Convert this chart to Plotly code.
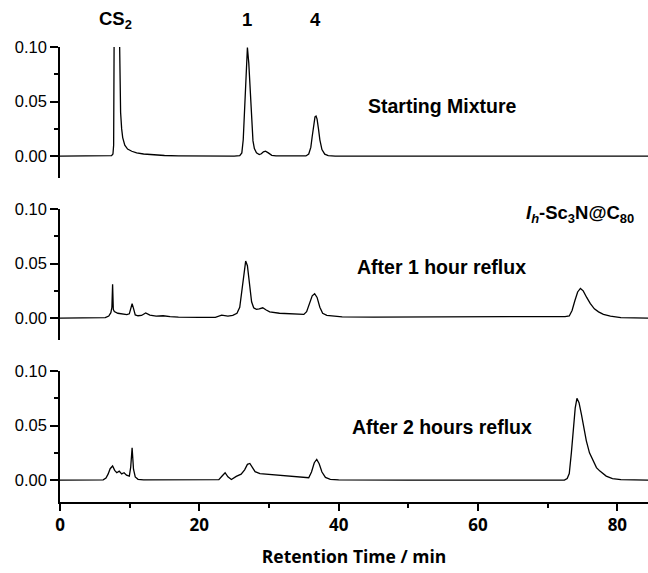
import plotly.graph_objects as go

# ---------------- data ----------------
x_start = [0, 5, 7.4, 7.6, 7.7, 7.8, 7.9, 8.1, 8.3, 8.45, 8.55, 8.7, 8.85, 9.0, 9.3, 9.7,
           10.3, 11, 12, 13.5, 15, 17, 20, 25, 25.8, 26.1, 26.3, 26.5, 26.7, 26.9, 27.1,
           27.3, 27.5, 27.7, 27.9, 28.2, 28.6, 28.9, 29.2, 29.5, 29.9, 30.4, 31, 33, 35.3,
           35.7, 36.0, 36.2, 36.4, 36.6, 36.75, 36.9, 37.1, 37.3, 37.6, 38.0, 38.5, 39.5,
           45, 60, 84.5]
y_start = [0, 0, 0.0005, 0.002, 0.01, 0.15, 0.4, 0.6, 0.4, 0.15, 0.08, 0.04, 0.025, 0.017,
           0.01, 0.0065, 0.0045, 0.003, 0.002, 0.0012, 0.0006, 0.0003, 0, 0, 0.0005, 0.003,
           0.015, 0.045, 0.085, 0.0995, 0.085, 0.058, 0.03, 0.014, 0.007, 0.003, 0.0015,
           0.0022, 0.004, 0.0046, 0.003, 0.0008, 0.0002, 0, 0.0002, 0.002, 0.008, 0.018,
           0.03, 0.036, 0.0367, 0.034, 0.025, 0.015, 0.006, 0.0018, 0.0005, 0.0001, 0, 0, 0]

x_1h = [0, 5, 6.5, 7.0, 7.3, 7.45, 7.55, 7.65, 7.8, 8.3, 9.0, 9.6, 9.95, 10.15, 10.35,
        10.55, 10.8, 11.2, 11.7, 12.3, 12.9, 13.8, 14.8, 15.8, 17, 20, 22.3, 23.2, 24.1,
        24.8, 25.4, 25.8, 26.1, 26.4, 26.65, 26.9, 27.2, 27.5, 27.8, 28.2, 28.6, 29.1,
        29.6, 30.1, 31.5, 33.5, 35.0, 35.4, 35.8, 36.2, 36.55, 36.9, 37.3, 37.7, 38.3,
        39.2, 40.5, 45, 55, 65, 72.5, 73.1, 73.5, 73.9, 74.3, 74.7, 75.1, 75.6, 76.1,
        76.7, 77.3, 78.0, 79.0, 80.5, 84.5]
y_1h = [0, 0, 0.0005, 0.002, 0.005, 0.01, 0.031, 0.008, 0.006, 0.0045, 0.0035, 0.0032,
        0.004, 0.01, 0.0132, 0.009, 0.003, 0.0022, 0.0025, 0.0048, 0.0028, 0.0018, 0.0022,
        0.0015, 0.001, 0.0007, 0.0008, 0.0027, 0.0018, 0.0025, 0.0045, 0.01, 0.025, 0.043,
        0.0523, 0.048, 0.03, 0.015, 0.0095, 0.008, 0.0085, 0.0095, 0.0075, 0.0058, 0.0045,
        0.004, 0.0035, 0.006, 0.0135, 0.0205, 0.0224, 0.019, 0.01, 0.0045, 0.0025, 0.0018,
        0.0012, 0.0010, 0.0010, 0.0012, 0.0015, 0.002, 0.007, 0.016, 0.024, 0.0272, 0.025,
        0.019, 0.0135, 0.0085, 0.0058, 0.0035, 0.0018, 0.0005, 0.0]

x_2h = [0, 5, 6.2, 6.6, 6.9, 7.2, 7.55, 7.85, 8.15, 8.5, 8.85, 9.2, 9.55, 9.95, 10.15,
        10.35, 10.55, 10.8, 11.2, 12, 15, 20, 22.8, 23.3, 23.7, 24.1, 24.6, 25.3, 26.0,
        26.5, 26.9, 27.25, 27.6, 28.0, 28.7, 30, 32, 34, 35.7, 36.1, 36.5, 36.85, 37.2,
        37.6, 38.1, 38.8, 40, 50, 65, 72.4, 72.8, 73.1, 73.4, 73.7, 73.95, 74.2, 74.5,
        74.85, 75.2, 75.55, 76.0, 76.5, 77.0, 77.5, 78.4, 79.3, 80.5, 84.5]
y_2h = [0, 0, 0.0003, 0.002, 0.0055, 0.0105, 0.013, 0.009, 0.0068, 0.0083, 0.0058, 0.0068,
        0.0046, 0.0037, 0.012, 0.0297, 0.01, 0.003, 0.0008, 0.0003, 0.0002, 0.0003, 0.0005,
        0.004, 0.0068, 0.003, 0.0006, 0.0035, 0.0055, 0.0095, 0.0145, 0.0153, 0.0115,
        0.0078, 0.006, 0.0052, 0.0043, 0.0033, 0.0022, 0.0075, 0.016, 0.019, 0.015, 0.0075,
        0.0025, 0.0008, 0.0002, 0, 0, 0, 0.0015, 0.006, 0.025, 0.048, 0.066, 0.075, 0.071,
        0.06, 0.047, 0.036, 0.025, 0.0174, 0.0115, 0.0083, 0.0037, 0.0015, 0.0005, 0]

y_ticks = [0.0, 0.05, 0.10]
y_tick_text = ["0.00", "0.05", "0.10"]
x_ticks = [0, 20, 40, 60, 80]
x_tick_text = ["0", "20", "40", "60", "80"]
peak_labels = ["<b>CS<sub>2</sub></b>", "<b>1</b>", "<b>4</b>"]
peak_label_x = [7.9, 26.8, 36.7]

# ---------------- figure ----------------
line = dict(color="black", width=1.3)
fig = go.Figure()
fig.add_trace(go.Scatter(x=x_start, y=y_start, mode="lines", line=line, xaxis="x", yaxis="y"))
fig.add_trace(go.Scatter(x=x_1h, y=y_1h, mode="lines", line=line, xaxis="x", yaxis="y2"))
fig.add_trace(go.Scatter(x=x_2h, y=y_2h, mode="lines", line=line, xaxis="x", yaxis="y3"))

tickfont = dict(family="Liberation Sans, Arial", size=16.5, color="black")


def yax(domain):
    return dict(
        domain=domain, anchor="x", range=[-0.02, 0.10], showline=True,
        linecolor="black", linewidth=1.5, showgrid=False, zeroline=False,
        tickmode="array", tickvals=y_ticks, ticktext=y_tick_text,
        ticks="outside", ticklen=8, tickwidth=1.5, tickcolor="black",
        tickfont=tickfont,
        minor=dict(tickmode="array", tickvals=[0.025, 0.075], ticks="outside",
                   ticklen=4, tickwidth=1.5, tickcolor="black", showgrid=False),
    )


h = 455.0
xfont = dict(family="Open Sans", size=17, color="black")
fig.update_layout(
    width=648, height=573,
    margin=dict(l=60, r=0, t=47, b=71),
    paper_bgcolor="white", plot_bgcolor="white",
    showlegend=False,
    xaxis=dict(
        anchor="y3", range=[0, 84.4], showline=True, linecolor="black", linewidth=1.5,
        showgrid=False, zeroline=False, tickmode="array", tickvals=x_ticks,
        ticktext=["<b>" + t + "</b>" for t in x_tick_text],
        ticks="outside", ticklen=7, tickwidth=1.5, tickcolor="black",
        tickfont=xfont,
        minor=dict(tickmode="array", tickvals=[10, 30, 50, 70], ticks="outside",
                   ticklen=4, tickwidth=1.5, tickcolor="black", showgrid=False),
        title=dict(text="<b>Retention Time / min</b>",
                   font=dict(family="Open Sans", size=17.5, color="black"), standoff=16),
    ),
    yaxis=yax([(502 - 178) / h, 1.0]),
    yaxis2=yax([(502 - 340) / h, (502 - 209) / h]),
    yaxis3=yax([0.0, 131 / h]),
)

afont = dict(family="Liberation Sans, Arial", size=18.5, color="black")
lfont = dict(family="Liberation Sans, Arial", size=19.5, color="black")
annots = []
for txt, xv in zip(peak_labels, peak_label_x):
    annots.append(dict(x=xv, y=(502 - 20) / h, xref="x", yref="paper", text=txt, font=afont))
annots += [
    dict(x=54.95, y=0.0456, xref="x", yref="y", text="<b>Starting Mixture</b>", font=lfont),
    dict(x=74.6, y=0.095, xref="x", yref="y2",
         text="<b><i>I</i><sub><i>h</i></sub>-Sc<sub>3</sub>N@C<sub>80</sub></b>", font=afont),
    dict(x=54.8, y=0.0465, xref="x", yref="y2", text="<b>After 1 hour reflux</b>", font=lfont),
    dict(x=54.8, y=0.0483, xref="x", yref="y3", text="<b>After 2 hours reflux</b>", font=lfont),
]
for a in annots:
    a.update(showarrow=False, xanchor="center", yanchor="middle")
    fig.add_annotation(**a)

fig.write_html("out.html")
